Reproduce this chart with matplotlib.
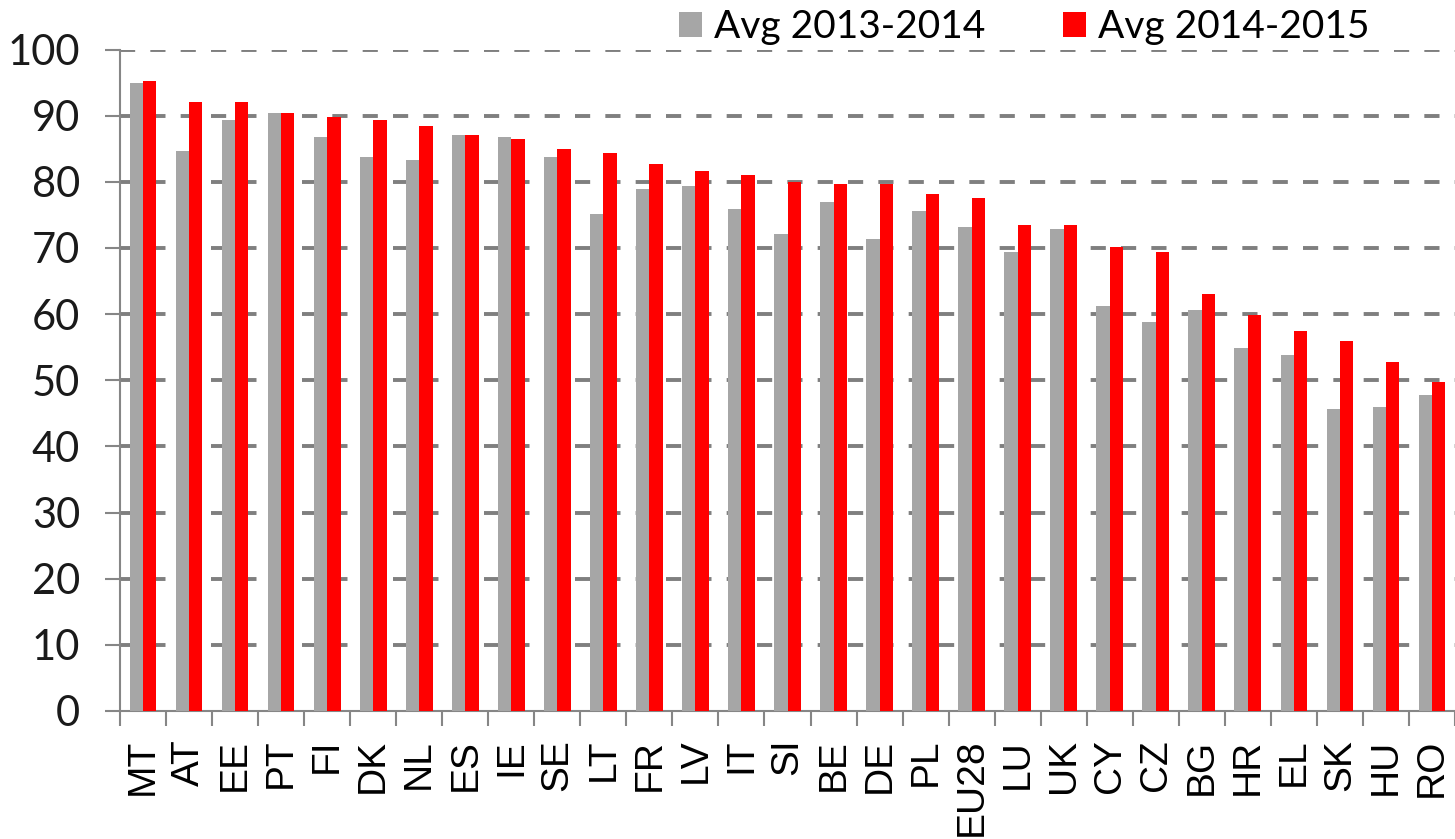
import numpy as np
import matplotlib
matplotlib.use('Agg')
import matplotlib.pyplot as plt
from matplotlib.patches import Patch

# Values.
countries = ['MT', 'AT', 'EE', 'PT', 'FI', 'DK', 'NL', 'ES', 'IE', 'SE', 'LT', 'FR', 'LV', 'IT',
             'SI', 'BE', 'DE', 'PL', 'EU28', 'LU', 'UK', 'CY', 'CZ', 'BG', 'HR', 'EL', 'SK', 'HU', 'RO']
avg_2013_2014 = [94.9, 84.7, 89.4, 90.4, 86.7, 83.7, 83.3, 87.0, 86.7, 83.7, 75.2, 78.9, 79.3, 75.9,
                 72.1, 76.9, 71.4, 75.6, 73.1, 69.4, 72.8, 61.3, 58.8, 60.6, 54.8, 53.8, 45.7, 46.0, 47.7]
avg_2014_2015 = [95.2, 92.1, 92.1, 90.4, 89.8, 89.4, 88.4, 87.0, 86.4, 85.0, 84.4, 82.7, 81.7, 81.0,
                 79.9, 79.6, 79.6, 78.2, 77.6, 73.4, 73.4, 70.1, 69.4, 63.0, 59.9, 57.5, 55.9, 52.8, 49.7]
legend_labels = ['Avg 2013-2014', 'Avg 2014-2015']
y_ticks = list(range(0, 101, 10))

GREY = '#A6A6A6'
RED = '#FF0000'
AXIS = '#868686'

W, H = 1455, 839
fig = plt.figure(figsize=(W / 100, H / 100), dpi=100)
ax = fig.add_axes([120 / W, 1 - 711 / H, 1 - 120 / W, (711 - 49.5) / H])

x = np.arange(len(countries))
bw = 0.29
ax.bar(x - bw / 2, avg_2013_2014, width=bw, color=GREY, zorder=3)
ax.bar(x + bw / 2, avg_2014_2015, width=bw, color=RED, zorder=3)

ax.set_ylim(0, 100)
ax.set_xlim(-0.5, -0.5 + (W - 120) / 46.6)

# Dashed horizontal gridlines
for v in y_ticks[1:]:
    ax.axhline(v, color='#7f7f7f', lw=2.8, linestyle=(0, (3.9, 3.9)), zorder=1)

for s in ['top', 'right']:
    ax.spines[s].set_visible(False)
for s in ['left', 'bottom']:
    ax.spines[s].set_color(AXIS)
    ax.spines[s].set_linewidth(1.5)

ax.set_yticks(y_ticks)
ax.set_yticklabels([str(v) for v in y_ticks], fontsize=30, family='Lato', color='#1a1a1a')
ax.tick_params(axis='y', length=10.8, width=1.5, color=AXIS, pad=18)

# Ticks at category boundaries, labels at category centres
ax.set_xticks(np.arange(len(countries) + 1) - 0.5)
ax.set_xticklabels([])
ax.tick_params(axis='x', which='major', length=10.8, width=1.5, color=AXIS, direction='out')
ax.set_xticks(x, minor=True)
ax.set_xticklabels(countries, minor=True, rotation=90, fontsize=28, family='Liberation Sans',
                   color='black', va='top')
ax.tick_params(axis='x', which='minor', length=0, pad=20)

handles = [Patch(facecolor=GREY), Patch(facecolor=RED)]
leg = fig.legend(handles, legend_labels, loc='center left', bbox_to_anchor=(679 / W, 1 - 27 / H),
                 ncol=2, frameon=False, prop={'family': 'Lato', 'size': 28},
                 handlelength=0.6, handleheight=0.6, handletextpad=0.3, columnspacing=2.0,
                 borderpad=0, borderaxespad=0)

fig.savefig('out.png', dpi=100)
